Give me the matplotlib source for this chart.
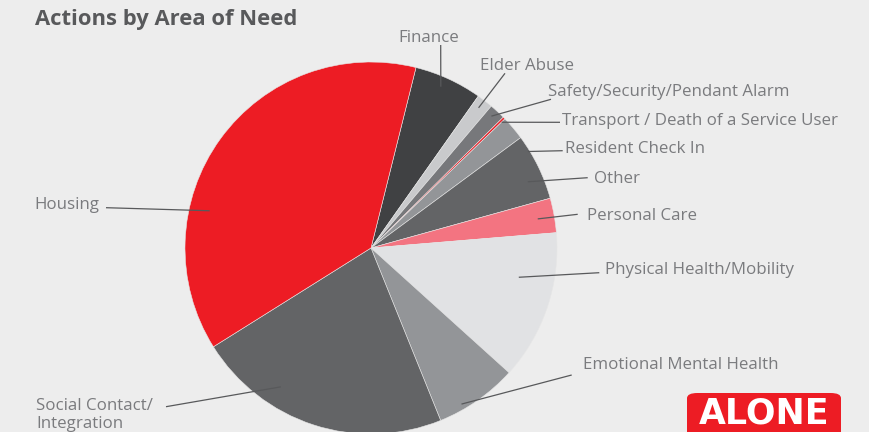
import numpy as np
import matplotlib
matplotlib.use("Agg")
import matplotlib.pyplot as plt
from matplotlib.patches import FancyBboxPatch

# ---- data (percent shares, clockwise from Finance) ----
categories = ["Finance", "Elder Abuse", "Safety/Security/Pendant Alarm",
              "Transport / Death of a Service User", "Resident Check In", "Other",
              "Personal Care", "Physical Health/Mobility", "Emotional Mental Health",
              "Social Contact/\nIntegration", "Housing"]
values = [5.9, 1.4, 1.4, 0.2, 2.1, 5.8, 3.0, 13.0, 7.2, 22.2, 37.8]
colors = ["#404143", "#C9CACC", "#77787B", "#ED1C24", "#939598", "#636466",
          "#F37481", "#E1E2E4", "#939598", "#636466", "#ED1C24"]

# ---- layout: leader-line anchors (angle clockwise from top, radius fraction),
#      line end in pixels, text position in pixels, alignment ----
anchors = [(23.4, 0.945), (37.5, 0.95), (42.4, 0.96), (46.1, 0.975), (58.4, 0.99),
           (67.1, 0.915), (80.1, 0.91), (101.2, 0.81), (149.9, 0.97), (213.0, 0.89),
           (283.0, 0.89)]
line_ends = [(440.7, 45), (505, 73.3), (551, 99.3), (560, 122.3), (562.7, 150.7),
             (587.7, 177.7), (577.7, 214.3), (599.3, 272.7), (571.7, 375), (166, 406.7),
             (106, 207.7)]
text_pos = [(428.5, 38), (480, 66), (548, 92), (562, 121), (565, 149), (594, 179),
            (587, 216), (605, 270), (583, 365), (36, 415), (99, 205)]
text_ha = ["center", "left", "left", "left", "left", "left", "left", "left", "left",
           "left", "right"]

W, H = 869, 432
CX, CY, R = 371, 248, 186
BG = "#EDEDED"

fig = plt.figure(figsize=(W / 100, H / 100), dpi=100, facecolor=BG)
ax = fig.add_axes([(CX - R) / W, (H - CY - R) / H, 2 * R / W, 2 * R / H])
ax.axis("off")

ax.pie(values, colors=colors, startangle=76, counterclock=False, radius=1,
       wedgeprops=dict(edgecolor="#E6E6E6", linewidth=0.4))
ax.set_xlim(-1, 1)
ax.set_ylim(-1, 1)
ax.set_aspect("auto")

def px2data(px, py):
    return (px - CX) / R, (CY - py) / R

font = ["Open Sans", "DejaVu Sans"]
for cat, (ang, rr), (lx, ly), (tx, ty), ha in zip(categories, anchors, line_ends,
                                                    text_pos, text_ha):
    a = np.deg2rad(ang)
    x0, y0 = rr * np.sin(a), rr * np.cos(a)
    x1, y1 = px2data(lx, ly)
    ax.plot([x0, x1], [y0, y1], color="#58595B", lw=0.9, clip_on=False,
            solid_capstyle="butt")
    txd, tyd = px2data(tx, ty)
    ax.text(txd, tyd, cat, ha=ha, va="center", fontsize=12.2, color="#7A7B7E",
            family=font, fontweight="normal", clip_on=False, linespacing=1.2)

fig.text(35 / W, 1 - 20 / H, "Actions by Area of Need", ha="left", va="center",
         fontsize=15.8, fontweight="bold", color="#58595B", family=font)

# logo box
box = FancyBboxPatch((687 / W, -0.05), (841 - 687) / W, (432 - 393) / H + 0.05,
                     boxstyle="round,pad=0,rounding_size=0.012",
                     transform=fig.transFigure, facecolor="#ED1C24",
                     edgecolor="none")
fig.add_artist(box)
fig.text(764 / W, 1.5 / H, "ALONE", ha="center", va="bottom", fontsize=25,
         fontweight="bold", color="white", family=["DejaVu Sans"])

fig.savefig("out.png", dpi=100, facecolor=BG)
